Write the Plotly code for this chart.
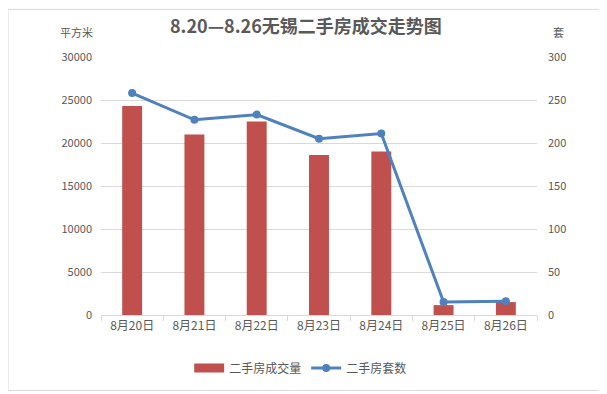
import plotly.graph_objects as go

categories = ["8月20日", "8月21日", "8月22日", "8月23日", "8月24日", "8月25日", "8月26日"]
area_values = [24300, 21000, 22500, 18600, 19000, 1150, 1500]
unit_values = [258, 227, 233, 205, 211, 15, 16]
bar_name = "二手房成交量"
line_name = "二手房套数"
title_text = "8.20—8.26无锡二手房成交走势图"

FONT = "Noto Sans CJK SC, Microsoft YaHei, sans-serif"
GRAY = "#595959"
RED = "#C0504D"
BLUE = "#4F81BD"

fig = go.Figure()
fig.add_trace(go.Bar(x=categories, y=area_values, name=bar_name,
                     marker=dict(color=RED, line=dict(width=0)),
                     yaxis="y", showlegend=False))
# legend-only entry to mimic the wide rectangular swatch
fig.add_trace(go.Scatter(x=[categories[0]], y=[None], name=bar_name, mode="lines",
                         line=dict(color=RED, width=9), yaxis="y", showlegend=True))
fig.add_trace(go.Scatter(x=categories, y=unit_values, name=line_name,
                         mode="lines+markers",
                         line=dict(color=BLUE, width=3),
                         marker=dict(color=BLUE, size=8),
                         yaxis="y2"))

fig.update_layout(
    width=599, height=386,
    margin=dict(l=93, r=70, t=49, b=77),
    paper_bgcolor="white", plot_bgcolor="white",
    font=dict(family=FONT, color=GRAY, size=11),
    bargap=0.68,
    showlegend=True,
    legend=dict(orientation="h", x=0.458, xanchor="center", y=-0.205, yanchor="middle",
                font=dict(size=12, color=GRAY), itemwidth=30, tracegroupgap=0),
    xaxis=dict(showgrid=False, showline=True, linecolor="#D9D9D9", linewidth=1,
               ticks="outside", tickson="boundaries", ticklen=5, tickcolor="#D9D9D9",
               tickfont=dict(size=12, color=GRAY)),
    yaxis=dict(range=[0, 30000], dtick=5000, tickformat="d", showgrid=True,
               gridcolor="#D9D9D9", zeroline=False, showline=False,
               tickfont=dict(size=11, color=GRAY), ticklabelstandoff=8),
    yaxis2=dict(range=[0, 300], dtick=50, tickformat="d", overlaying="y", side="right",
                showgrid=False, zeroline=False, showline=False,
                tickfont=dict(size=11, color=GRAY), ticklabelstandoff=10),
    annotations=[
        dict(text="<b>" + title_text + "</b>", xref="paper", yref="paper",
             x=0.47, y=1.0, yshift=32, yanchor="middle", showarrow=False,
             font=dict(size=18, color=GRAY, family=FONT)),
        dict(text="平方米", xref="paper", yref="paper", x=0, y=1.0, xshift=-25, yshift=25,
             xanchor="center", yanchor="middle",
             showarrow=False, font=dict(size=11, color=GRAY)),
        dict(text="套", xref="paper", yref="paper", x=1, y=1.0, xshift=21, yshift=25,
             xanchor="center", yanchor="middle",
             showarrow=False, font=dict(size=11, color=GRAY)),
    ],
    shapes=[dict(type="rect", xref="paper", yref="paper", layer="below",
                 x0=-93 / 436, x1=1 + 69 / 436, y0=-76 / 260, y1=1 + 48 / 260,
                 line=dict(color="#D9D9D9", width=1))],
)

fig.write_html("out.html")
